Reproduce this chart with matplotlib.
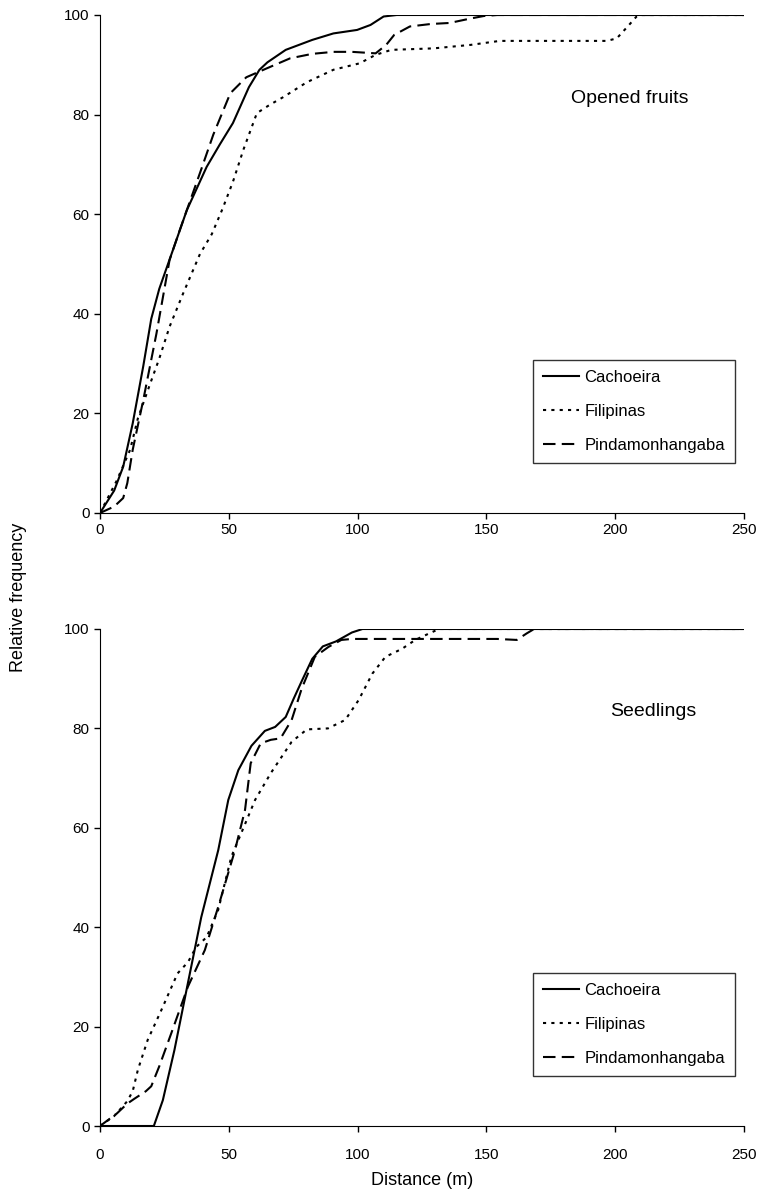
import matplotlib.pyplot as plt
import numpy as np

plt.rcParams['font.family'] = ['Liberation Sans', 'DejaVu Sans']

# ---------------- data ----------------
# Opened fruits
fr_cach_x = [0, 5.5, 9, 12.7, 16.8, 19.9, 23, 28.1, 33.7, 41.4, 46.5, 51.6, 57.8, 61.9, 65, 72.1, 82.4, 90.6, 99.8, 105, 110.1, 115.2, 123.4, 250]
fr_cach_y = [0, 4.5, 9.3, 18, 29.5, 39, 45, 52.5, 60.8, 69.5, 74, 78.3, 85.5, 89, 90.5, 93, 95, 96.3, 97, 98, 99.7, 100, 100, 100]

fr_fili_x = [0, 6.5, 11.7, 14.7, 19.5, 23, 27, 32.2, 38.8, 43.4, 47.5, 51.6, 55.7, 60.9, 66, 71.1, 80.3, 90.6, 100.8, 107,
             113.1, 129.5, 143.9, 155.2, 179.8, 196.7, 200.6, 204.5, 208.3, 210, 250]
fr_fili_y = [0, 6.5, 12.7, 19, 26, 31, 37.4, 44, 52, 56, 61, 66.5, 73, 80.3, 82, 83.5, 86.5, 89, 90.3, 92,
             93, 93.3, 94, 94.8, 94.8, 94.8, 95.3, 97.5, 99.7, 100, 100]

fr_pind_x = [0, 5.5, 9, 10.6, 12.7, 16.8, 21.9, 27, 31.1, 35.2, 39.3, 44, 50.6, 56.8, 64.8, 73.8, 82.4, 90.6, 97.8, 107,
             111.1, 114.2, 120.3, 128.5, 135.7, 143.9, 149, 154.2, 250]
fr_pind_y = [0, 1.3, 3, 6, 12.7, 22.7, 36, 50.8, 57, 63, 69, 76, 84.3, 87.5, 89.3, 91.3, 92.2, 92.6, 92.6, 92.3,
             94, 96, 97.7, 98.2, 98.4, 99.3, 99.8, 100, 100]

# Seedlings
sd_cach_x = [0, 20.9, 24.4, 28.9, 34.1, 39.3, 45.9, 49.8, 53.7, 58.8, 64, 68, 72.1, 75.2, 78.3, 82.4, 86.5, 91.6, 97.8, 101.9, 250]
sd_cach_y = [0, 0, 5.2, 15.3, 28.7, 42, 55.5, 65.6, 71.6, 76.5, 79.5, 80.3, 82.3, 86, 89.5, 94, 96.5, 97.5, 99.3, 100, 100]

sd_fili_x = [0, 5.5, 10.6, 12.7, 14.7, 18.5, 23.8, 30.1, 34.2, 37.3, 41.4, 45.9, 51, 55.7, 60.2, 66.3, 74.4, 80.3, 88.5,
             95.2, 100.4, 105.7, 110.8, 117.2, 122.4, 126.5, 131.6, 250]
sd_fili_y = [0, 2, 5, 7, 11.3, 17.3, 23.3, 30.7, 33, 36, 38, 43.5, 54.2, 60, 65.6, 71, 77.3, 79.8, 80,
             81.7, 85.7, 91, 94.4, 96, 97.8, 98.8, 100, 100]

sd_pind_x = [0, 6.5, 10.6, 13.4, 17.8, 19.9, 23, 27.7, 34.1, 40.7, 45.9, 52.4, 56.3, 58.5, 62.4, 66.3, 70.1, 74.4, 78.3,
             83.4, 88.7, 93.7, 97.8, 154.2, 161.8, 165.6, 168.5, 250]
sd_pind_y = [0, 2.5, 4.5, 5.5, 7, 8, 12, 18.7, 28, 35.4, 44.1, 55.5, 63.6, 73, 77, 77.7, 78, 81.7, 88,
             94.4, 96.4, 97.8, 98, 98, 97.8, 99.1, 100, 100]

sites = ["Cachoeira", "Filipinas", "Pindamonhangaba"]
panel_titles = ["Opened fruits", "Seedlings"]
title_pos = [(0.823, 0.833), (0.859, 0.833)]

styles = [dict(linestyle="-"), dict(linestyle=(0, (1.5, 2.5))), dict(linestyle=(0, (6, 3)))]

fig = plt.figure(figsize=(7.6, 11.95), dpi=100)
ax1 = fig.add_axes([100 / 760, 1 - 513 / 1195, 644 / 760, 498 / 1195])
ax2 = fig.add_axes([100 / 760, 1 - 1126 / 1195, 644 / 760, 497 / 1195])

panels = [
    (ax1, [(fr_cach_x, fr_cach_y), (fr_fili_x, fr_fili_y), (fr_pind_x, fr_pind_y)]),
    (ax2, [(sd_cach_x, sd_cach_y), (sd_fili_x, sd_fili_y), (sd_pind_x, sd_pind_y)]),
]

for i, (ax, series) in enumerate(panels):
    for (xs, ys), name, st in zip(series, sites, styles):
        ax.plot(xs, ys, color="black", linewidth=1.5, label=name, **st)
    ax.set_xlim(0, 250)
    ax.set_ylim(0, 100)
    ax.set_xticks(np.arange(0, 251, 50))
    ax.set_yticks(np.arange(0, 101, 20))
    ax.spines["top"].set_visible(False)
    ax.spines["right"].set_visible(False)
    ax.tick_params(direction="out", length=4, width=1, labelsize=11)
    ax.text(title_pos[i][0], title_pos[i][1], panel_titles[i], transform=ax.transAxes,
            fontsize=14, ha="center", va="center")
    leg = ax.legend(loc="lower right", bbox_to_anchor=(0.986, 0.10), fontsize=12,
                    frameon=True, fancybox=False, edgecolor="black",
                    handlelength=2.2, handletextpad=0.3, labelspacing=1.15,
                    borderpad=0.6, borderaxespad=0)
    leg.get_frame().set_linewidth(1.0)

ax2.tick_params(axis="x", pad=12)
ax2.set_xlabel("Distance (m)", fontsize=13, labelpad=7)
fig.text(0.024, 0.5, "Relative frequency", rotation=90, fontsize=13,
         ha="center", va="center")

plt.savefig("out.png", dpi=100)
